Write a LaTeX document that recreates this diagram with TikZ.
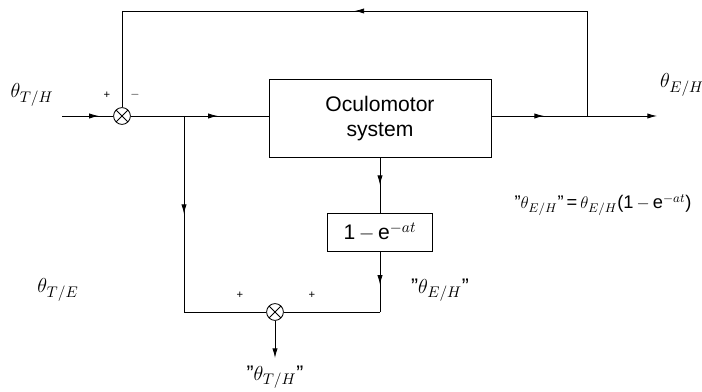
\documentclass[tikz,border=0pt]{standalone}
\usepackage{amsmath}
\usepackage{fontspec}
\setmainfont{Liberation Sans}
\usepackage{tikz}
\usetikzlibrary{arrows.meta,calc,positioning,decorations.markings}

\begin{document}
\begin{tikzpicture}[x=0.025cm, y=0.025cm, line width=0.6pt,
 block/.style={draw, minimum width=5.55cm, minimum height=1.93cm, font=\fontsize{15}{18}\selectfont, align=center},
 sumjunc/.style={draw, circle, minimum size=0.42cm, inner sep=0pt,
 path picture={\draw (path picture bounding box.north west) -- (path picture bounding box.south east)
 (path picture bounding box.north east) -- (path picture bounding box.south west);}},
 midarrow/.style={postaction={decorate}, decoration={markings,
 mark=at position #1 with {\arrow{Latex[length=2.4mm,width=1.3mm]}}}},
 endarrow/.style={-{Latex[length=2.4mm,width=1.3mm]}},
 lbl/.style={font=\fontsize{15}{18}\selectfont},
 sgn/.style={font=\footnotesize}]
\useasboundingbox (0,0) rectangle (702,392);

% Blocks and junctions
\node[sumjunc] (sum1) at (122,276) {};
\node[block] (osys) at (380,273.5) {Oculomotor\\system};
\node[block, minimum width=2.63cm, minimum height=0.95cm] (filt) at (380,160) {1\,$-$\,e$^{-at}$};
\node[sumjunc] (sum2) at (275,80) {};

% Points on the lines
\coordinate (inp) at (62,276);
\coordinate (branch) at (184,276);
\coordinate (pickoff) at (587,276);
\coordinate (outp) at (657,276);
\coordinate (topR) at (587,381);
\coordinate (topL) at (122,381);
\coordinate (cornL) at (184,80);
\coordinate (cornR) at (380,80);
\coordinate (tapout) at (275,34);

% Forward path
\draw[midarrow=0.72] (inp) -- (sum1);
\draw (sum1) -- (branch);
\draw[midarrow=0.4] (branch) -- (branch -| osys.west);
\draw[midarrow=0.55] (pickoff -| osys.east) -- (pickoff);
\draw[endarrow] (pickoff) -- (outp);

% Feedback loop
\draw (pickoff) -- (topR);
\draw[midarrow=0.5] (topR) -- (topL);
\draw (topL) -- (sum1);

% Lower branch
\draw[midarrow=0.5] (branch) -- (cornL);
\draw (cornL) -- (sum2);
\draw[midarrow=0.5] (osys.south) -- (filt.north);
\draw[midarrow=0.55] (filt.south) -- (cornR);
\draw (cornR) -- (sum2);
\draw[endarrow] (sum2) -- (tapout);

% Signs
\foreach \px/\py/\s in {107/297/+, 135/297/$-$, 240/97/+, 312/97/+} {
 \node[sgn] (s\px) at (\px,\py) {\s};
}

% Labels
\node[lbl] (lTH) at (32,297) {$\theta_{T/H}$};
\node[lbl] (lEH) at (682,307) {$\theta_{E/H}$};
\node[lbl] (lTE) at (58,102) {$\theta_{T/E}$};
\node[lbl] (qEH) at (440,102) {"$\theta_{E/H}$"};
\node[lbl] (qTH) at (275,15) {"$\theta_{T/H}$"};
\node[font=\fontsize{13}{15}\selectfont] (eqn) at (603,187) {"$\theta_{E/H}$"\,=\,$\theta_{E/H}$(1\,$-$\,e$^{-at}$)};
\end{tikzpicture}
\end{document}
